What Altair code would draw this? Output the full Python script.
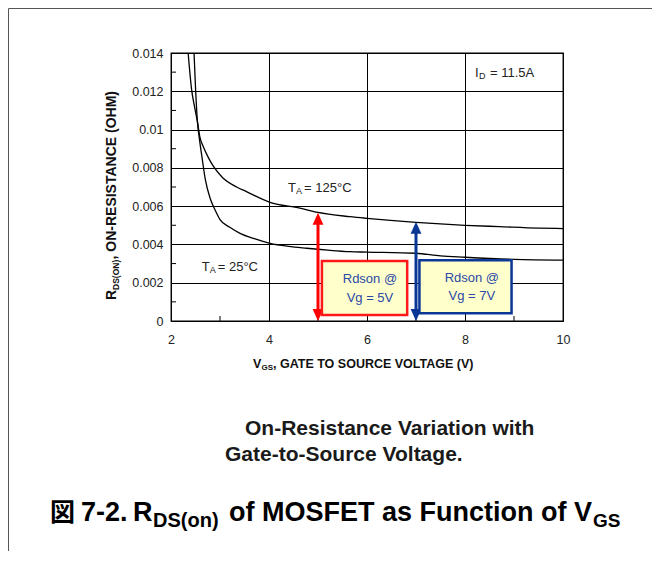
import altair as alt
import pandas as pd

FONT = "Liberation Sans"
CJK = "Noto Sans CJK JP"

# ---- data ----
vgs_125 = [2.35, 2.42, 2.48, 2.54, 2.59, 2.66, 2.75, 2.86, 3.05, 3.34, 3.54, 4.02, 4.63, 5.0, 5.65, 6.0, 7.0, 8.0, 8.7, 9.5, 10.0]
rds_125 = [0.0140, 0.0121, 0.0112, 0.0104, 0.0096, 0.0091, 0.0086, 0.0081, 0.0075, 0.0070, 0.00676, 0.0062, 0.0059, 0.00567,
           0.00545, 0.00536, 0.00515, 0.0050, 0.00493, 0.00485, 0.00483]
vgs_25 = [2.47, 2.50, 2.54, 2.58, 2.63, 2.70, 2.80, 2.90, 3.0, 3.2, 3.41, 3.7, 4.02, 4.4, 4.77, 5.2, 5.65, 6.0, 7.0, 7.5, 8.0, 9.0, 10.0]
rds_25 = [0.0140, 0.0122, 0.0104, 0.0095, 0.0086, 0.0074, 0.0064, 0.0058, 0.0053, 0.0049, 0.00458, 0.0043, 0.00406, 0.0039,
          0.0038, 0.0037, 0.00362, 0.0036, 0.00354, 0.0034, 0.00333, 0.00322, 0.00318]

x_ticks = [2, 4, 6, 8, 10]
y_ticks = [0, 0.002, 0.004, 0.006, 0.008, 0.010, 0.012, 0.014]
x_minor = [3, 5, 7, 9]
y_minor = [0.001, 0.003, 0.005, 0.007, 0.009, 0.011, 0.013]

arrow_vg = [5.0, 7.0]
arrow_top = [0.00565, 0.00518]
arrow_color = ["#ff0000", "#0a3696"]

box_x0 = [5.08, 7.07]
box_x1 = [6.82, 8.95]
box_y0 = [0.00031, 0.00040]
box_y1 = [0.00313, 0.00318]
box_text_x = [6.06, 8.14]
box_line1 = ["Rdson @", "Rdson @"]
box_line2 = ["Vg = 5V", "Vg = 7V"]

X = alt.Scale(domain=[2, 10], nice=False, zero=False)
Y = alt.Scale(domain=[0, 0.014], nice=False, zero=False)

W, H = 392, 268
PL, PT = 163, 45
OX, OY = 8 + PL, 8 + PT  # page position of the plot origin

axis_common = dict(title=None, domain=False, ticks=False, grid=True, gridColor="black",
                   gridOpacity=1, gridWidth=1, labelFont=FONT, labelFontSize=12.5,
                   labelColor="#222", labelFlush=False)
AX = alt.Axis(values=x_ticks, labelPadding=12, **axis_common)
AY = alt.Axis(values=y_ticks, format=".3~f", labelPadding=8, **axis_common)


def xe(f):
    return alt.X(f, scale=X, axis=AX)


def ye(f):
    return alt.Y(f, scale=Y, axis=AY)


curves = pd.DataFrame({
    "x": vgs_125 + vgs_25,
    "y": rds_125 + rds_25,
    "s": ["125"] * len(vgs_125) + ["25"] * len(vgs_25),
})

lines = alt.Chart(curves).mark_line(color="black", strokeWidth=1.3, interpolate="monotone", clip=True).encode(
    x=xe("x:Q"), y=ye("y:Q"), detail="s:N")

ymin = alt.Chart(pd.DataFrame({"y": y_minor})).mark_rule(color="black", strokeWidth=1).encode(
    x=alt.value(0), x2=alt.value(5), y=ye("y:Q"))
xmin = alt.Chart(pd.DataFrame({"x": x_minor})).mark_rule(color="black", strokeWidth=1).encode(
    x=xe("x:Q"), y=alt.value(H), y2=alt.value(H - 5))

arr = pd.DataFrame({"x": arrow_vg, "top": arrow_top, "c": arrow_color})
arr["lo"] = 0.0004
arr["hi"] = arr["top"] - 0.0004
arr["bot"] = 0.0
shaft = alt.Chart(arr).mark_rule(strokeWidth=3).encode(
    x=xe("x:Q"), y=ye("lo:Q"), y2="hi:Q", color=alt.Color("c:N", scale=None))
head_up = alt.Chart(arr).mark_point(shape="M0,0L-0.45,1L0.45,1Z", size=576, filled=True, opacity=1, strokeWidth=0).encode(
    x=xe("x:Q"), y=ye("top:Q"), color=alt.Color("c:N", scale=None))
head_dn = alt.Chart(arr).mark_point(shape="M0,0L-0.45,-1L0.45,-1Z", size=576, filled=True, opacity=1, strokeWidth=0).encode(
    x=xe("x:Q"), y=ye("bot:Q"), color=alt.Color("c:N", scale=None))

boxes = pd.DataFrame({"x0": box_x0, "x1": box_x1, "y0": box_y0, "y1": box_y1, "c": ["#ff1a1a", "#0a3696"]})
rects = alt.Chart(boxes).mark_rect(fill="#ffffcc", strokeWidth=2.5).encode(
    x=xe("x0:Q"), x2="x1:Q", y=ye("y0:Q"), y2="y1:Q", stroke=alt.Stroke("c:N", scale=None))

btext = pd.DataFrame({"x": box_text_x + box_text_x, "y": [0.00218, 0.00225, 0.00122, 0.00128],
                      "t": box_line1 + box_line2})
boxlabels = alt.Chart(btext).mark_text(font=FONT, fontSize=13, color="#2a48a6", align="center", baseline="middle").encode(
    x=xe("x:Q"), y=ye("y:Q"), text="t:N")

dummy = pd.DataFrame({"a": [0]})


def dtext(x, y, text, size, dx=0, dy=0, weight="normal", color="#222", font=FONT):
    return alt.Chart(pd.DataFrame({"x": [x], "y": [y]})).mark_text(
        text=text, font=font, fontSize=size, fontWeight=weight, color=color, align="left",
        baseline="middle", dx=dx, dy=dy).encode(x=xe("x:Q"), y=ye("y:Q"))


def ptext(px, py, text, size, weight="normal", color="#111", font=FONT, angle=0):
    return alt.Chart(dummy).mark_text(
        text=text, font=font, fontSize=size, fontWeight=weight, color=color, align="left",
        baseline="middle", angle=angle).encode(x=alt.value(px - OX), y=alt.value(py - OY))


annot = [
    # T_A = 125°C
    dtext(4.39, 0.00695, "T", 13), dtext(4.39, 0.00695, "A", 9, dx=8, dy=3), dtext(4.39, 0.00695, "= 125°C", 13, dx=16),
    # T_A = 25°C
    dtext(2.627, 0.00284, "T", 13), dtext(2.627, 0.00284, "A", 9, dx=8, dy=3), dtext(2.627, 0.00284, "= 25°C", 13, dx=16),
    # I_D = 11.5A
    dtext(8.204, 0.01295, "I", 13), dtext(8.204, 0.01295, "D", 9, dx=4, dy=3), dtext(8.204, 0.01295, "= 11.5A", 13, dx=15),
]

titles = [
    # x axis title
    ptext(253, 364, "V", 12.5, "bold"), ptext(261.5, 368, "GS", 8, "bold"),
    ptext(273, 364, ", GATE TO SOURCE VOLTAGE (V)", 12.5, "bold"),
    # y axis title (rotated)
    ptext(112, 300, "R", 14, "bold", angle=270), ptext(115.5, 290, "DS(ON)", 8.5, "bold", angle=270),
    ptext(112, 259.5, ", ON-RESISTANCE (OHM)", 14, "bold", angle=270),
    # figure caption lines
    ptext(245, 429, "On-Resistance Variation with", 21, "bold", color="#1a1a1a"),
    ptext(225, 455, "Gate-to-Source Voltage.", 21, "bold", color="#1a1a1a"),
    ptext(50, 513, "図", 25, "bold", color="#000", font=CJK),
    ptext(81, 513, "7-2.", 27, "bold", color="#000"),
    ptext(133, 513, "R", 27, "bold", color="#000"),
    ptext(153, 521, "DS(on)", 20, "bold", color="#000"),
    ptext(229, 513, "of MOSFET as Function of V", 27, "bold", color="#000"),
    ptext(593, 521, "GS", 19, "bold", color="#000"),
]

frame_v = alt.Chart(dummy).mark_rule(color="#555", strokeWidth=1).encode(
    x=alt.value(8.5 - OX), y=alt.value(8.5 - OY), y2=alt.value(561 - OY))
frame_h = alt.Chart(dummy).mark_rule(color="#555", strokeWidth=1).encode(
    x=alt.value(8.5 - OX), x2=alt.value(660 - OX), y=alt.value(8.5 - OY))

chart = alt.layer(
    lines, ymin, xmin, shaft, head_up, head_dn, rects, boxlabels, *annot, *titles, frame_v, frame_h
).properties(
    width=W, height=H,
    padding={"left": PL, "top": PT, "right": 89, "bottom": 230},
    autosize=alt.AutoSizeParams(type="none"),
).configure_view(stroke="black", strokeWidth=1.3)

chart.save("out.html", embed_options={"renderer": "svg", "actions": False})
